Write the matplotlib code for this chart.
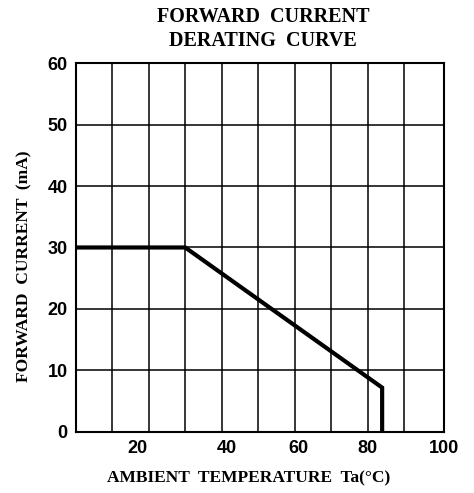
import matplotlib
matplotlib.use("Agg")
import matplotlib.pyplot as plt

# derating curve points (Ta in degC, If in mA)
temp = [0, 30, 84, 84]
current = [30, 30, 7.2, 0]

x_ticks = [20, 40, 60, 80, 100]
x_tick_pos = [17, 41.5, 61, 80, 101]   # labels sit a bit off the grid in the original
y_ticks = [0, 10, 20, 30, 40, 50, 60]

serif = "Liberation Serif"
sans = "Liberation Sans"

fig = plt.figure(figsize=(4.74, 4.93), dpi=100)
ax = fig.add_axes([0.160, 0.124, 0.777, 0.748])

ax.set_xlim(0, 100)
ax.set_ylim(0, 60)

for x in range(10, 100, 10):
    ax.axvline(x, color="black", lw=1.1, zorder=1)
for y in range(10, 60, 10):
    ax.axhline(y, color="black", lw=1.1, zorder=1)

ax.plot(temp, current, color="black", lw=3.0, solid_joinstyle="miter",
        solid_capstyle="butt", zorder=3)

for s in ax.spines.values():
    s.set_linewidth(1.5)

ax.set_xticks(x_tick_pos)
ax.set_xticklabels([str(t) for t in x_ticks])
ax.set_yticks(y_ticks)
ax.set_yticklabels([str(t) for t in y_ticks])
ax.tick_params(axis="x", length=0, pad=6)
ax.tick_params(axis="y", length=0, pad=6)
for lab in ax.get_xticklabels() + ax.get_yticklabels():
    lab.set_fontfamily(sans)
    lab.set_fontweight("bold")
    lab.set_fontsize(13)

ax.set_xlabel("AMBIENT  TEMPERATURE  Ta(°C)", family=serif, weight="bold",
              fontsize=12.5, va="center", ha="center")
ax.xaxis.set_label_coords(0.47, -0.125)
ax.set_ylabel("FORWARD  CURRENT  (mA)", family=serif, weight="bold",
              fontsize=12.5, va="center", ha="center")
ax.yaxis.set_label_coords(-0.139, 0.45)
fig.text(0.555, 0.985, "FORWARD  CURRENT\nDERATING  CURVE", family=serif,
         weight="bold", fontsize=14.5, ha="center", va="top", linespacing=1.25)

fig.savefig("out.png", dpi=100)
